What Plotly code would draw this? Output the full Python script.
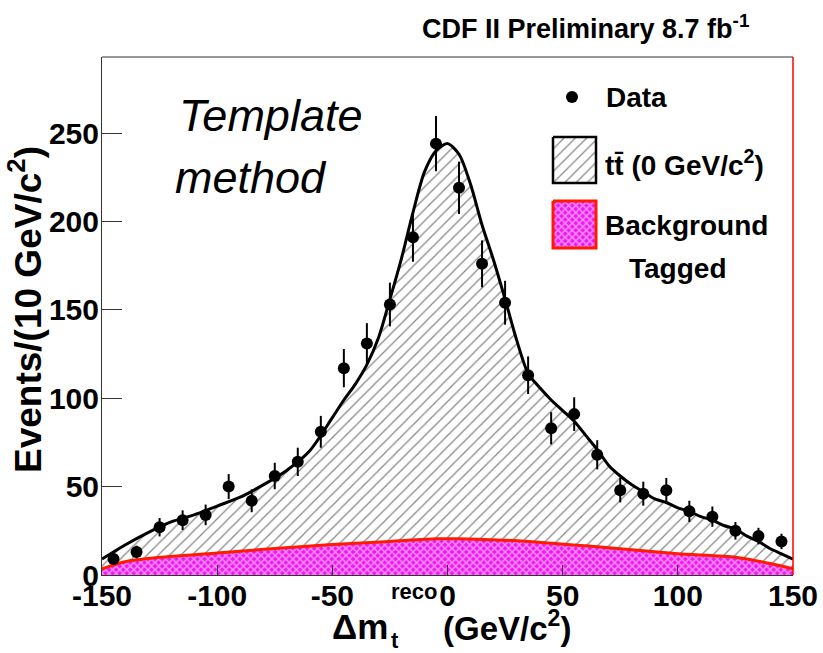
import numpy as np
import plotly.graph_objects as go

# ---------------- data ----------------
bin_centers = [-145, -135, -125, -115, -105, -95, -85, -75, -65, -55,
               -45, -35, -25, -15, -5, 5, 15, 25, 35, 45,
               55, 65, 75, 85, 95, 105, 115, 125, 135, 145]
data_counts = [9, 13, 27, 31, 34, 50, 42, 56, 64, 81,
               117, 131, 153, 191, 244, 219, 176, 154, 113, 83,
               91, 68, 48, 46, 48, 36, 33, 25, 22, 19]

template_x = [-150, -140, -130, -120, -110, -100, -90, -80, -70, -60,
              -50, -45, -40, -35, -30, -25, -20, -15, -10, -5,
              0, 5, 10, 15, 20, 25, 30, 35, 40, 45,
              50, 55, 60, 65, 70, 75, 80, 85, 90, 95,
              100, 105, 110, 115, 120, 125, 130, 135, 140, 145, 150]
template_total = [9, 17, 24, 30, 34, 39, 44, 51, 59, 70,
                  89, 99, 108, 119, 134, 156, 179, 205, 228, 240,
                  244, 238, 221, 198, 178, 156, 133, 114, 106, 99,
                  93, 87, 79, 71, 62, 56, 51, 47, 43, 41,
                  38, 36, 33, 31, 28, 26, 22, 19, 15, 12, 9]

bkg_x = [-150, -140, -125, -100, -75, -50, -25, -5, 5, 35, 60, 100, 125, 140, 150]
bkg_vals = [3.5, 7.5, 10, 12.5, 15, 17.3, 19, 20.5, 20.5, 19, 16.5, 12, 10, 6.5, 3.5]

x_tick_vals = [-150, -100, -50, 0, 50, 100, 150]
x_tick_text = ["-150", "-100", "-50", "0", "50", "100", "150"]
y_tick_vals = [0, 50, 100, 150, 200, 250]
y_tick_text = ["0", "50", "100", "150", "200", "250"]

# ---------------- layout helpers ----------------
W, H = 823, 653
L, R, T, B = 102, 793, 57, 575
FONT = "Liberation Sans, Arial, Helvetica, sans-serif"


def px(x):
    return (x - L) / (R - L)


def py(y):
    return (B - y) / (B - T)


HATCH = dict(shape="/", bgcolor="white", fgcolor="#111111", size=8, solidity=0.16)
MAGENTA = "#f018f0"
CROSS = dict(shape="x", bgcolor=MAGENTA, fgcolor="white", size=5, solidity=0.5)

fig = go.Figure()

# background (stack bottom)
fig.add_trace(go.Scatter(
    x=bkg_x, y=bkg_vals, mode="lines",
    line=dict(color="#ff1a00", width=3, shape="spline", smoothing=0.6),
    fill="tozeroy", fillcolor=MAGENTA, fillpattern=CROSS,
    hoverinfo="skip"))

# ttbar template (stacked total)
fig.add_trace(go.Scatter(
    x=template_x, y=template_total, mode="lines",
    line=dict(color="black", width=3, shape="spline", smoothing=0.8),
    fill="tonexty", fillcolor="white", fillpattern=HATCH,
    hoverinfo="skip"))

# data points
fig.add_trace(go.Scatter(
    x=bin_centers, y=data_counts, mode="markers",
    marker=dict(color="black", size=12),
    error_y=dict(type="data", array=np.sqrt(np.array(data_counts, dtype=float)),
                 color="black", thickness=2, width=0),
    hoverinfo="skip"))

# ---------- legend swatches on an overlay pixel axis ----------
leg_marker = (572, 97)
leg_box_tt = (553, 137, 596, 183)
leg_box_bg = (553, 201, 596, 248)


def box(b):
    x0, y0, x1, y1 = b
    return [x0, x1, x1, x0, x0], [y0, y0, y1, y1, y0]


bx, by = box(leg_box_tt)
fig.add_trace(go.Scatter(
    x=bx, y=by, xaxis="x2", yaxis="y2", mode="lines", fill="toself",
    line=dict(color="black", width=2.5), fillcolor="white", fillpattern=HATCH,
    hoverinfo="skip"))
bx, by = box(leg_box_bg)
fig.add_trace(go.Scatter(
    x=bx, y=by, xaxis="x2", yaxis="y2", mode="lines", fill="toself",
    line=dict(color="#ff1a00", width=3), fillcolor=MAGENTA, fillpattern=CROSS,
    hoverinfo="skip"))
fig.add_trace(go.Scatter(
    x=[leg_marker[0]], y=[leg_marker[1]], xaxis="x2", yaxis="y2", mode="markers",
    marker=dict(color="black", size=12), hoverinfo="skip"))

tickfont = dict(family=FONT, size=30, color="black", weight="bold")

fig.update_layout(
    width=W, height=H,
    margin=dict(l=L, r=W - R, t=T, b=H - B, pad=0),
    paper_bgcolor="white", plot_bgcolor="white",
    showlegend=False,
    xaxis=dict(range=[-150, 150], tickvals=x_tick_vals, ticktext=x_tick_text,
               ticks="inside", ticklen=10, ticklabelstandoff=-6,
               tickcolor="#333333", showline=True, linecolor="#333333", linewidth=1,
               showgrid=False, zeroline=False, tickfont=tickfont, automargin=False),
    yaxis=dict(range=[0, 293], tickvals=y_tick_vals, ticktext=y_tick_text,
               ticks="inside", ticklen=20, ticklabelstandoff=-4,
               tickcolor="#333333", showline=True, linecolor="#333333", linewidth=1,
               showgrid=False, zeroline=False, tickfont=tickfont, automargin=False),
    xaxis2=dict(range=[L, R], overlaying="x", visible=False, fixedrange=True),
    yaxis2=dict(range=[B, T], overlaying="y", visible=False, fixedrange=True),
)

fig.add_shape(type="line", xref="paper", yref="paper", x0=0, x1=1, y0=1, y1=1,
              line=dict(color="#333333", width=1))
fig.add_shape(type="line", xref="paper", yref="paper", x0=1, x1=1, y0=0, y1=1,
              line=dict(color="#ff0000", width=1.5))


def ann(text, x, y, size, xanchor="left", weight="bold", style="normal", angle=0):
    fig.add_annotation(text=text, xref="paper", yref="paper", x=px(x), y=py(y),
                       xanchor=xanchor, yanchor="middle", showarrow=False,
                       textangle=angle,
                       font=dict(family=FONT, size=size, color="black",
                                 weight=weight, style=style))


ann("CDF II Preliminary 8.7 fb<sup>-1</sup>", 420, 27, 27)
ann("Template", 177, 115, 45, weight="normal", style="italic")
ann("method", 173, 177, 45, weight="normal", style="italic")
ann("Data", 604, 98, 28)
ann("tt\u0304 (0 GeV/c<sup>2</sup>)", 603, 163, 28)
ann("Background", 603, 225, 28)
ann("Tagged", 677, 268, 28, xanchor="center")

# axis titles
ann("Events/(10 GeV/c<sup>2</sup>)", 25, 310, 37, xanchor="center", angle=-90)
ann("\u0394m", 330, 626, 35)
ann("reco", 389, 591, 22)
ann("t", 389, 640, 22)
ann("(GeV/c<sup>2</sup>)", 441, 626, 33)

fig.write_html("out.html", config={"displayModeBar": False},
               post_script="document.body.style.margin='0px';")
